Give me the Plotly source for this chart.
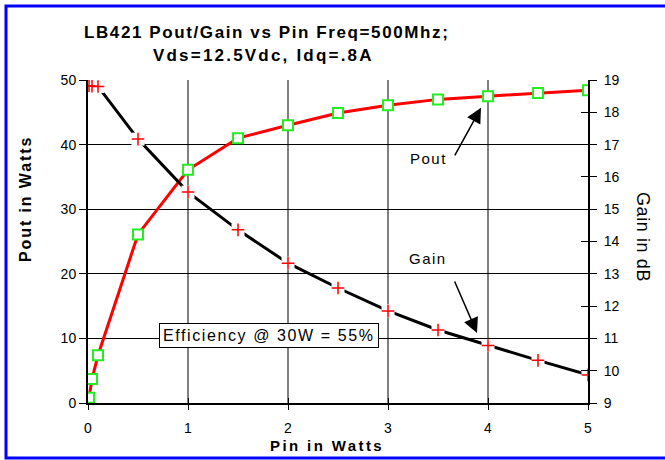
import plotly.graph_objects as go

# Data
pin_pout = [0.01, 0.04, 0.1, 0.5, 1.0, 1.5, 2.0, 2.5, 3.0, 3.5, 4.0, 4.5, 5.0]
pout = [0.8, 3.7, 7.4, 26.1, 36.1, 41.0, 43.0, 44.9, 46.1, 47.0, 47.5, 48.0, 48.4]

pin_gain = [0.01, 0.04, 0.1, 0.5, 1.0, 1.5, 2.0, 2.5, 3.0, 3.5, 4.0, 4.5, 5.0]
gain = [18.82, 18.81, 18.8, 17.17, 15.53, 14.36, 13.33, 12.56, 11.85, 11.26, 10.78, 10.32, 9.87]

x_ticks = [0, 1, 2, 3, 4, 5]
y_ticks = [0, 10, 20, 30, 40, 50]
y2_ticks = [9, 10, 11, 12, 13, 14, 15, 16, 17, 18, 19]

FONT = "Liberation Sans, Arial, sans-serif"
W, H = 665, 460
L, R, T, B = 88, 77, 80, 57
PW, PH = W - L - R, H - T - B


def px(xp):
    return (xp - L) / PW


def py(yp):
    return (H - B - yp) / PH


def spaced(text, sp):
    return f'<span style="letter-spacing:{sp}px">{text}</span>'


fig = go.Figure()

# Gain line (right axis)
fig.add_trace(go.Scatter(x=pin_gain, y=gain, yaxis="y2", mode="lines",
                         line=dict(color="black", width=3), showlegend=False,
                         hoverinfo="skip"))
# white gaps around gain markers
fig.add_trace(go.Scatter(x=pin_gain, y=gain, yaxis="y2", mode="markers",
                         marker=dict(symbol="square", size=13, color="white",
                                     line=dict(width=0)),
                         showlegend=False, hoverinfo="skip"))
fig.add_trace(go.Scatter(x=pin_gain, y=gain, yaxis="y2", mode="markers",
                         marker=dict(symbol="cross-thin", size=9,
                                     line=dict(color="red", width=1.5)),
                         name="Gain", showlegend=False))
# Pout
fig.add_trace(go.Scatter(x=pin_pout, y=pout, mode="lines+markers",
                         line=dict(color="red", width=3),
                         marker=dict(symbol="square", size=10, color="white",
                                     line=dict(color="#22ee22", width=2)),
                         name="Pout", showlegend=False))

axis_font = dict(family=FONT, size=14, color="black")

fig.update_layout(
    width=W, height=H,
    margin=dict(l=L, r=R, t=T, b=B, autoexpand=False),
    paper_bgcolor="white", plot_bgcolor="white",
    font=dict(family=FONT, color="black"),
    xaxis=dict(range=[0, 5], tickvals=x_ticks, showgrid=True,
               gridcolor="#808080", gridwidth=1.5, showline=True,
               linecolor="black", linewidth=2, ticks="outside", ticklen=5,
               tickcolor="black", tickfont=axis_font, zeroline=False,
               ticklabelstandoff=6, mirror=False),
    yaxis=dict(range=[0, 50], tickvals=y_ticks, showgrid=True,
               gridcolor="black", gridwidth=1, showline=True,
               linecolor="black", linewidth=2, ticks="outside", ticklen=7,
               tickcolor="black", tickfont=axis_font, zeroline=False),
    yaxis2=dict(range=[9, 19], tickvals=y2_ticks, overlaying="y",
                side="right", showgrid=False, showline=True,
                linecolor="black", linewidth=2, ticks="outside", ticklen=7,
                tickcolor="black", tickfont=axis_font, zeroline=False,
                ticklabelstandoff=4),
    yaxis3=dict(range=[9, 19], tickvals=y2_ticks, overlaying="y",
                side="right", showgrid=False, showline=False,
                ticks="inside", ticklen=7, tickcolor="black",
                showticklabels=False, zeroline=False),
    xaxis2=dict(range=[0, 5], tickvals=x_ticks, overlaying="x",
                side="bottom", showgrid=False, showline=False,
                ticks="inside", ticklen=5, tickcolor="black",
                showticklabels=False, zeroline=False),
)
# invisible trace to activate helper axes
fig.add_trace(go.Scatter(x=[0], y=[9], xaxis="x2", yaxis="y3", mode="markers",
                         marker=dict(opacity=0), showlegend=False,
                         hoverinfo="skip"))

ann = []
C = dict(xanchor="center", yanchor="middle", showarrow=False)
# Titles
ann.append(dict(text="<b>" + spaced("LB421 Pout/Gain vs Pin Freq=500Mhz;", 1.6) + "</b>",
                xref="paper", yref="paper", x=px(266), y=py(32),
                font=dict(family=FONT, size=17), **C))
ann.append(dict(text="<b>" + spaced("Vds=12.5Vdc, Idq=.8A", 2.2) + "</b>",
                xref="paper", yref="paper", x=px(263), y=py(55),
                font=dict(family=FONT, size=17), **C))
ann.append(dict(text="<b>" + spaced("Pin in Watts", 2.4) + "</b>",
                xref="paper", yref="paper", x=px(327), y=py(445),
                font=dict(family=FONT, size=15), **C))
ann.append(dict(text="<b>" + spaced("Pout in Watts", 1.9) + "</b>",
                xref="paper", yref="paper",
                x=px(25), y=py(199), textangle=-90,
                font=dict(family=FONT, size=16), **C))
ann.append(dict(text=spaced("Gain in dB", 0.6), xref="paper", yref="paper",
                x=px(643), y=py(237), textangle=90,
                font=dict(family=FONT, size=18), **C))
# Callouts
ann.append(dict(text=spaced("Pout", 1.5), x=3.40, y=37.9, xref="x", yref="y",
                font=dict(family=FONT, size=15), **C))
ann.append(dict(text=spaced("Gain", 1.5), x=3.40, y=22.4, xref="x", yref="y",
                font=dict(family=FONT, size=15), **C))
ann.append(dict(text="", x=3.93, y=45.7, xref="x", yref="y",
                ax=-27, ay=49, showarrow=True, arrowhead=2, arrowsize=2,
                arrowwidth=1.5, arrowcolor="black"))
ann.append(dict(text="", x=3.89, y=10.84, xref="x", yref="y",
                ax=-23, ay=-53, showarrow=True, arrowhead=2, arrowsize=2,
                arrowwidth=1.5, arrowcolor="black"))
ann.append(dict(text=spaced("Efficiency @ 30W = 55%", 1.6), x=1.81, y=10.45,
                xref="x", yref="y",
                font=dict(family=FONT, size=16), bgcolor="white",
                bordercolor="black", borderwidth=1, borderpad=3, **C))
fig.update_layout(annotations=ann)

# Blue frame: drawn as a single open path (left, top, bottom edges)
x_l, x_r = px(6), px(700)
y_t, y_b = py(6), py(458)
fig.add_shape(type="path", xref="paper", yref="paper",
              path=f"M {x_r},{y_t} L {x_l},{y_t} L {x_l},{y_b} L {x_r},{y_b}",
              line=dict(color="#0000ff", width=3), fillcolor="rgba(0,0,0,0)",
              layer="above")

fig.write_html("out.html", config={"displayModeBar": False},
               post_script="document.body.style.margin='0px';"
                           "document.body.style.overflow='hidden';")
